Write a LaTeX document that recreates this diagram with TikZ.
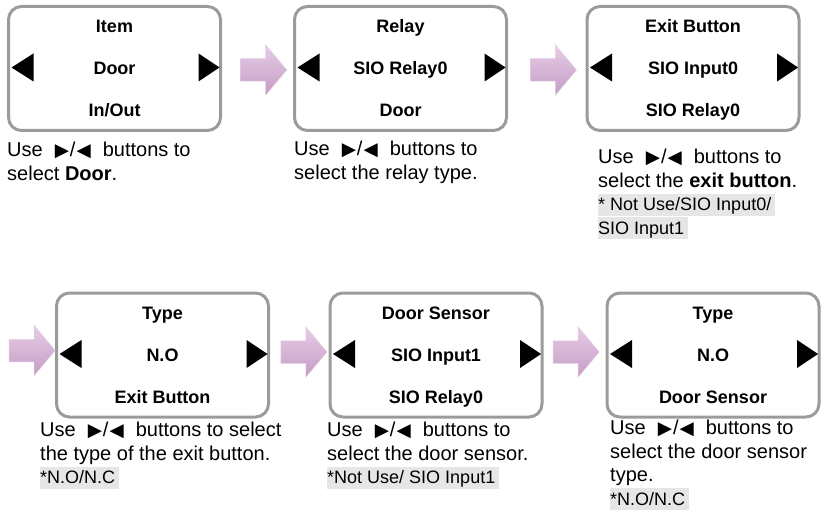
\documentclass[tikz,border=0pt]{standalone}
\usepackage{fontspec}
\setmainfont{Liberation Sans}
\newfontfamily\symfont{DejaVu Sans}
\usetikzlibrary{shapes.arrows,calc}

\definecolor{panelgray}{RGB}{155,155,155}
\definecolor{notegray}{RGB}{230,230,230}
\definecolor{arrowtop}{RGB}{230,205,230}
\definecolor{arrowbot}{RGB}{196,156,196}

\newcommand\navkeys{\hspace{12pt}{\symfont\fontsize{18.5}{18}\selectfont ▶}\hspace{1pt}/\hspace{1pt}{\symfont\fontsize{18.5}{18}\selectfont ◀}\hspace{12pt}}
\newcommand\hlnote[1]{{\setlength{\fboxsep}{0pt}\colorbox{notegray}{\fontsize{18}{18}\selectfont\rule[-5pt]{0pt}{22pt}#1\hspace{4pt}}}}

\begin{document}
\begin{tikzpicture}[x=1pt,y=-1pt,
  panel/.style={draw=panelgray, line width=3pt, rounded corners=13pt, minimum width=212pt, minimum height=124pt},
  item/.style={font=\fontsize{18}{20}\selectfont\bfseries, text height=13pt, text depth=0pt, inner sep=0pt},
  hint/.style={anchor=north west, inner sep=0pt, align=left, font=\fontsize{20}{23.5}\selectfont},
  fatarrow/.style={single arrow, minimum height=46pt, inner xsep=0pt, inner ysep=11pt, single arrow head extend=14pt,
    single arrow tip angle=100, top color=arrowtop, bottom color=arrowbot, draw=arrowtop, line width=0.5pt}]
\useasboundingbox (0,0) rectangle (821,521);

% first row
\node[panel] (b1) at (114.5,68.5) {};
\node[item] (b1top) at ($(b1)+(0,-42)$) {Item};
\node[item] (b1mid) at (b1) {Door};
\node[item] (b1bot) at ($(b1)+(0,42)$) {In/Out};

\node[panel] (b2) at (400.5,68.5) {};
\node[item] (b2top) at ($(b2)+(0,-42)$) {Relay};
\node[item] (b2mid) at (b2) {SIO Relay0};
\node[item] (b2bot) at ($(b2)+(0,42)$) {Door};

\node[panel] (b3) at (693,68.5) {};
\node[item] (b3top) at ($(b3)+(0,-42)$) {Exit Button};
\node[item] (b3mid) at (b3) {SIO Input0};
\node[item] (b3bot) at ($(b3)+(0,42)$) {SIO Relay0};

% second row
\node[panel] (b4) at (162.5,355) {};
\node[item] (b4top) at ($(b4)+(0,-42)$) {Type};
\node[item] (b4mid) at (b4) {N.O};
\node[item] (b4bot) at ($(b4)+(0,42)$) {Exit Button};

\node[panel] (b5) at (436,355) {};
\node[item] (b5top) at ($(b5)+(0,-42)$) {Door Sensor};
\node[item] (b5mid) at (b5) {SIO Input1};
\node[item] (b5bot) at ($(b5)+(0,42)$) {SIO Relay0};

\node[panel] (b6) at (713,355) {};
\node[item] (b6top) at ($(b6)+(0,-42)$) {Type};
\node[item] (b6mid) at (b6) {N.O};
\node[item] (b6bot) at ($(b6)+(0,42)$) {Door Sensor};

\foreach \p in {b1,b2,b3,b4,b5,b6}{
  \fill ($(\p.west)+(4.5,-1)$) -- ++(22,-14) -- ++(0,28) -- cycle;
  \fill ($(\p.east)+(-2.5,-1)$) -- ++(-21,-14) -- ++(0,28) -- cycle;
}

% arrows between the screens
\coordinate (wrap) at (0,352);
\node[fatarrow] (a12) at ($(b1.east)!0.5!(b2.west)+(1.5,1.5)$) {};
\node[fatarrow] (a23) at ($(b2.east)!0.5!(b3.west)+(2,1.5)$) {};
\node[fatarrow] (a34) at ($(wrap)!0.5!(b4.west)+(0,-3)$) {};
\node[fatarrow] (a45) at ($(b4.east)!0.5!(b5.west)+(0,-3)$) {};
\node[fatarrow] (a56) at ($(b5.east)!0.5!(b6.west)+(-3,-3)$) {};

% hints
\node[hint] (c1) at (7,142) {Use\navkeys buttons to\\select \textbf{Door}.};
\node[hint] (c2) at (294,141) {Use\navkeys buttons to\\select the relay type.};
\node[hint] (c3) at (598,149) {Use\navkeys buttons to\\select the \textbf{exit button}.\\\hlnote{* Not Use/SIO Input0/}\\\hlnote{SIO Input1}};
\node[hint] (c4) at (40,422) {Use\navkeys buttons to select\\the type of the exit button.\\\hlnote{*N.O/N.C}};
\node[hint] (c5) at (327,422) {Use\navkeys buttons to\\select the door sensor.\\\hlnote{*Not Use/ SIO Input1}};
\node[hint] (c6) at (610,420) {Use\navkeys buttons to\\select the door sensor\\type.\\\hlnote{*N.O/N.C}};
\end{tikzpicture}
\end{document}
